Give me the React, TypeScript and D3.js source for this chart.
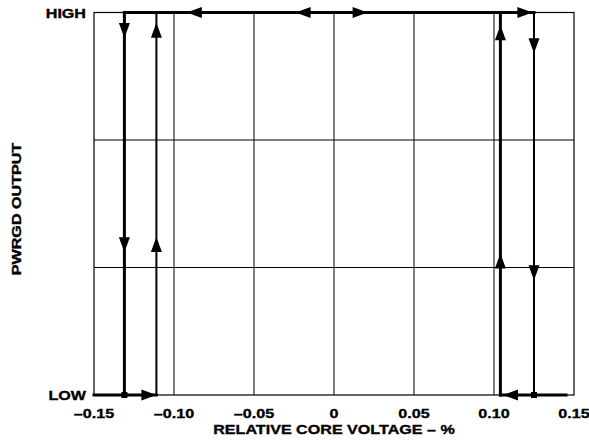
import * as d3 from "d3";

// x axis: relative core voltage (%)
const xTicks = [-0.15, -0.1, -0.05, 0, 0.05, 0.1, 0.15];
const xTickLabels = ["–0.15", "–0.10", "–0.05", "0", "0.05", "0.10", "0.15"];
// y axis: output state, LOW = 0, HIGH = 3, grid at thirds
const yGrid = [1, 2];
const yLabels = [
  { v: 0, label: "LOW" },
  { v: 3, label: "HIGH" },
];

// hysteresis thresholds
const fallLow = -0.131;
const riseLow = -0.111;
const riseHigh = 0.104;
const fallHigh = 0.125;

// traces and their weights
const traces = [
  { pts: [[fallLow, 3], [fallHigh, 3]], w: 3 },
  { pts: [[fallLow, 3], [fallLow, 0]], w: 3 },
  { pts: [[-0.15, 0], [riseLow, 0]], w: 3 },
  { pts: [[riseLow, 0], [riseLow, 3]], w: 2 },
  { pts: [[riseHigh, 0], [riseHigh, 3]], w: 3 },
  { pts: [[fallHigh, 3], [fallHigh, 0]], w: 2 },
  { pts: [[riseHigh, 0], [0.145, 0]], w: 3 },
];

// arrow tips: x, y, direction
const arrows = [
  { x: -0.092, y: 3, dir: "left" },
  { x: -0.024, y: 3, dir: "left" },
  { x: 0.021, y: 3, dir: "right" },
  { x: 0.124, y: 3, dir: "right" },
  { x: fallLow, y: 2.8, dir: "down" },
  { x: fallLow, y: 1.12, dir: "down" },
  { x: riseLow, y: 2.92, dir: "up" },
  { x: riseLow, y: 1.24, dir: "up" },
  { x: riseHigh, y: 2.9, dir: "up" },
  { x: riseHigh, y: 1.11, dir: "up" },
  { x: fallHigh, y: 2.68, dir: "down" },
  { x: fallHigh, y: 0.9, dir: "down" },
  { x: riseLow, y: 0, dir: "right" },
  { x: 0.1056, y: 0, dir: "left" },
];

const markers = [fallLow, fallHigh];

const W = 589;
const H = 441;
const MARGIN = { left: 94, right: 15, top: 12.5, bottom: 46 };
const FONT = "'Liberation Sans', Arial, Helvetica, sans-serif";

function WideText({ x, y, anchor = "middle", rotate = 0, children }) {
  return (
    <text
      transform={`translate(${x},${y}) rotate(${rotate}) scale(1.24,1)`}
      textAnchor={anchor}
      fontFamily={FONT}
      fontWeight={700}
      fontSize={13}
      fill="#000"
      stroke="#000"
      strokeWidth={0.35}
    >
      {children}
    </text>
  );
}

export default function App() {
  const x = d3.scaleLinear().domain([-0.15, 0.15]).range([MARGIN.left, W - MARGIN.right]);
  const y = d3.scaleLinear().domain([0, 3]).range([H - MARGIN.bottom, MARGIN.top]);
  const line = d3.line().x((d) => x(d[0])).y((d) => y(d[1]));

  const arrowPath = (a) => {
    const L = 15;
    const hw = 5.5;
    const tx = x(a.x);
    const ty = y(a.y);
    if (a.dir === "left") return `M${tx},${ty}L${tx + L},${ty - hw}L${tx + L},${ty + hw}Z`;
    if (a.dir === "right") return `M${tx},${ty}L${tx - L},${ty - hw}L${tx - L},${ty + hw}Z`;
    if (a.dir === "down") return `M${tx},${ty}L${tx - hw},${ty - L}L${tx + hw},${ty - L}Z`;
    return `M${tx},${ty}L${tx - hw},${ty + L}L${tx + hw},${ty + L}Z`;
  };

  return (
    <svg width={W} height={H} style={{ position: "absolute", left: 0, top: 0 }}>
      <rect width={W} height={H} fill="#fff" />
      {/* grid */}
      {xTicks.slice(1, -1).map((t, i) => (
        <line key={i} x1={x(t)} x2={x(t)} y1={y(0)} y2={y(3)} stroke="#000" strokeWidth={1} />
      ))}
      {yGrid.map((t, i) => (
        <line key={i} x1={x(-0.15)} x2={x(0.15)} y1={y(t)} y2={y(t)} stroke="#000" strokeWidth={1} />
      ))}
      <rect
        x={x(-0.15)}
        y={y(3)}
        width={x(0.15) - x(-0.15)}
        height={y(0) - y(3)}
        fill="none"
        stroke="#000"
        strokeWidth={1.2}
      />
      {/* traces */}
      {traces.map((t, i) => (
        <path key={i} d={line(t.pts)} stroke="#000" strokeWidth={t.w} fill="none" strokeLinecap="square" />
      ))}
      {markers.map((m, i) => (
        <rect key={i} x={x(m) - 3} y={y(0) - 3} width={6} height={6} fill="#000" />
      ))}
      {arrows.map((a, i) => (
        <path key={i} d={arrowPath(a)} fill="#000" />
      ))}
      {/* labels */}
      {yLabels.map((l, i) => (
        <WideText key={i} x={86} y={y(l.v) + 5} anchor="end">
          {l.label}
        </WideText>
      ))}
      {xTicks.map((t, i) => (
        <WideText key={i} x={x(t)} y={418}>
          {xTickLabels[i]}
        </WideText>
      ))}
      <WideText x={334} y={434}>
        RELATIVE CORE VOLTAGE – %
      </WideText>
      <WideText x={20.5} y={209} rotate={-90}>
        PWRGD OUTPUT
      </WideText>
    </svg>
  );
}
